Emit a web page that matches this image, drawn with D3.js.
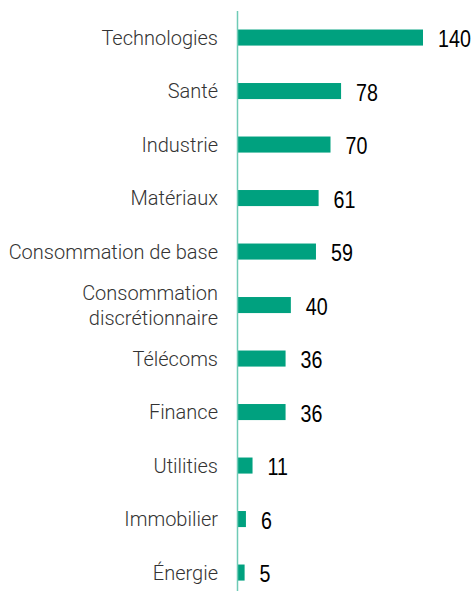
<!DOCTYPE html>
<html>
<head>
<meta charset="utf-8">
<script src="https://cdn.jsdelivr.net/npm/d3@7"></script>
<style>
  html, body { margin: 0; padding: 0; background: #fff; }
  svg { display: block; }
</style>
</head>
<body>
<svg id="chart" width="472" height="591"></svg>
<script>
// Sector categories (top to bottom) and their counts
const sectors = [
  ["Technologies"],
  ["Santé"],
  ["Industrie"],
  ["Matériaux"],
  ["Consommation de base"],
  ["Consommation", "discrétionnaire"],
  ["Télécoms"],
  ["Finance"],
  ["Utilities"],
  ["Immobilier"],
  ["Énergie"]
];
const counts = [140, 78, 70, 61, 59, 40, 36, 36, 11, 6, 5];

const svg = d3.select("#chart");
const axisX = 238;
const lineTop = 11, lineBottom = 591;

const x = d3.scaleLinear().domain([0, 140]).range([axisX, 423]);
const y = d3.scaleBand()
  .domain(d3.range(counts.length))
  .range([10.8, 599.3])
  .paddingInner(0.7)
  .paddingOuter(0.35);

// Bars
svg.selectAll("rect.bar")
  .data(counts)
  .join("rect")
  .attr("class", "bar")
  .attr("x", x(0))
  .attr("y", (d, i) => y(i))
  .attr("width", d => x(d) - x(0))
  .attr("height", y.bandwidth())
  .attr("fill", "#00a17f");

// Vertical baseline
svg.append("line")
  .attr("x1", axisX - 0.5).attr("x2", axisX - 0.5)
  .attr("y1", lineTop).attr("y2", lineBottom)
  .attr("stroke", "#6fcbb6")
  .attr("stroke-width", 1.5);

// Category labels
const labels = svg.selectAll("text.cat")
  .data(sectors)
  .join("text")
  .attr("class", "cat")
  .attr("text-anchor", "end")
  .attr("font-family", "Roboto, sans-serif")
  .attr("font-weight", 300)
  .attr("font-size", 20)
  .attr("fill", "#333");

labels.each(function(lines, i) {
  const cy = y(i) + y.bandwidth() / 2;
  const lh = 25;
  const start = cy - (lines.length - 1) * lh / 2;
  d3.select(this).selectAll("tspan")
    .data(lines)
    .join("tspan")
    .attr("x", 218)
    .attr("y", (l, k) => start + k * lh)
    .attr("dy", "0.35em")
    .text(l => l);
});

// Value labels, slightly condensed
const condense = 0.82;
svg.selectAll("text.val")
  .data(counts)
  .join("text")
  .attr("class", "val")
  .attr("transform", (d, i) =>
    `translate(${x(d) + 15},${y(i) + y.bandwidth() / 2}) scale(${condense},1)`)
  .attr("dy", "0.4em")
  .attr("font-family", "'Liberation Sans', sans-serif")
  .attr("font-size", 24)
  .attr("fill", "#000")
  .text(d => d);
</script>
</body>
</html>
